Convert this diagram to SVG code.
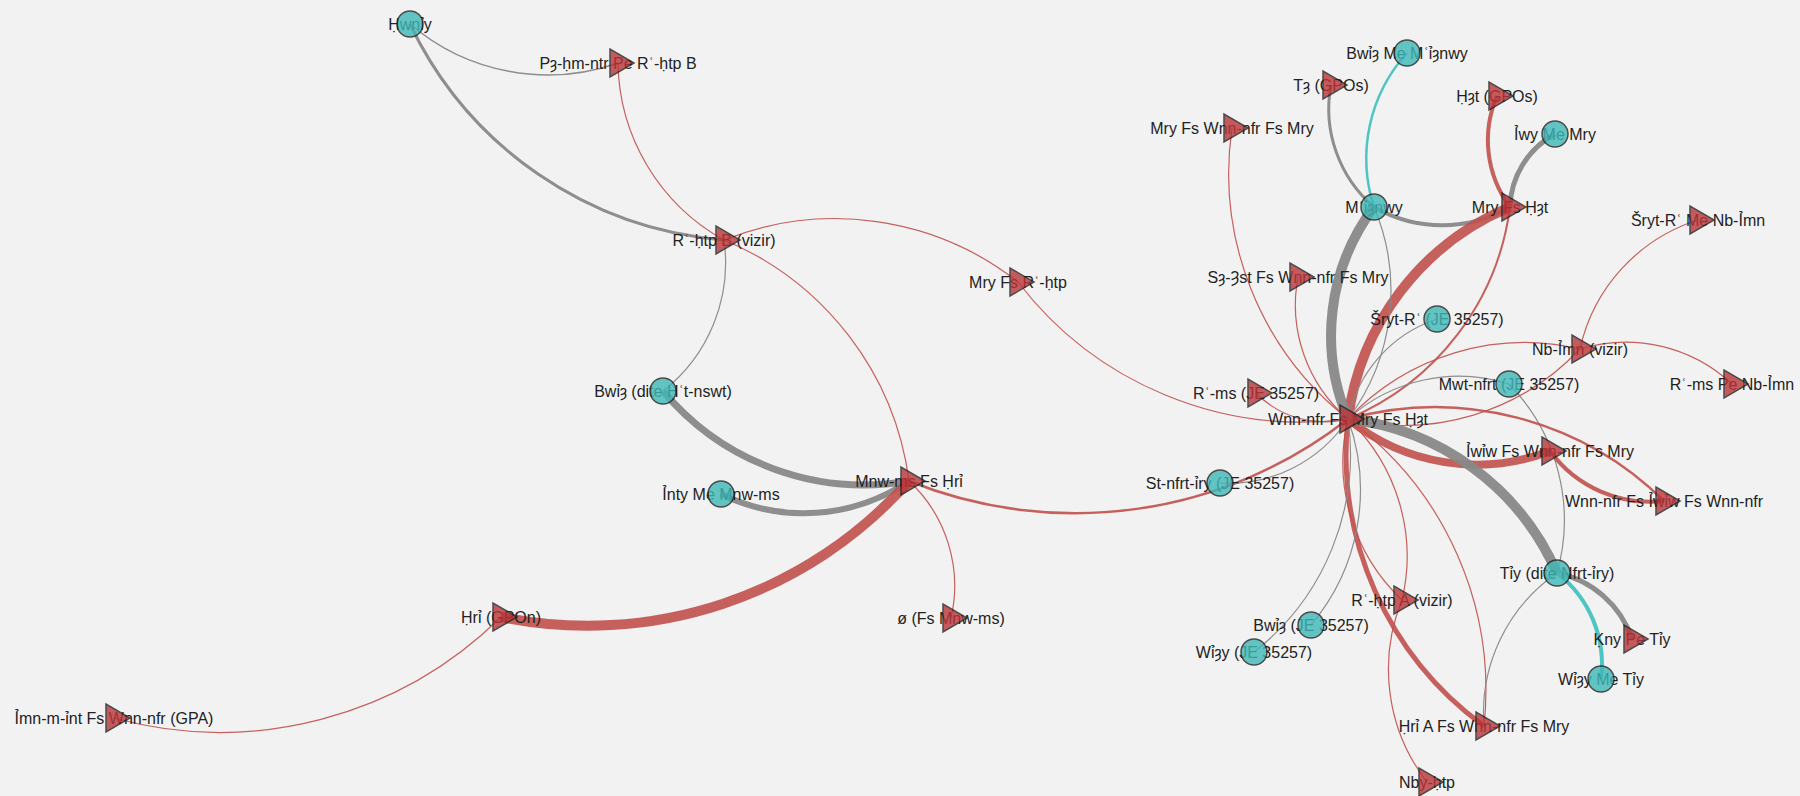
<svg xmlns="http://www.w3.org/2000/svg" xmlns:xlink="http://www.w3.org/1999/xlink" width="1800" height="796" viewBox="0 0 1800 796">
<style>
.e{fill:none}
.r{stroke:#c0504d;stroke-opacity:.9}
.g{stroke:#888;stroke-opacity:.95}
.t{stroke:#4fc4c4}
.lbl{font-family:"Liberation Sans",Arial,sans-serif;font-size:16px;fill:#222;text-anchor:middle}
.c{fill:#3fb8b8;stroke:#222;stroke-width:1.5;opacity:.8}
.tr{fill:#bb3538;stroke:#222;stroke-width:1.5;opacity:.8}
</style>
<defs>
<path id="tri" d="M-8,-14 L-8,14 L16,0 Z"/>
</defs>
<rect width="1800" height="796" fill="#f2f2f2"/>
<g id="edges" class="e">
<path class="g" stroke-width="1.5" d="M410,24 A212,212 0 0,0 618,63"/>
<path class="g" stroke-width="3" d="M410,24 A381,381 0 0,0 724,240"/>
<path class="r" stroke-width="1.2" d="M618,63 A206,206 0 0,0 724,240"/>
<path class="r" stroke-width="1.2" d="M724,240 A304,304 0 0,1 909,481"/>
<path class="r" stroke-width="1.2" d="M724,240 A297,297 0 0,1 1018,282"/>
<path class="r" stroke-width="1.2" d="M1018,282 A357,357 0 0,0 1348,419"/>
<path class="g" stroke-width="1.2" d="M663,391 A163,163 0 0,0 724,240"/>
<path class="g" stroke-width="7" d="M663,391 A262,262 0 0,0 909,481"/>
<path class="g" stroke-width="6" d="M721,494 A188,188 0 0,0 909,481"/>
<path class="r" stroke-width="10" d="M501,617 A430,430 0 0,0 909,481"/>
<path class="r" stroke-width="1.2" d="M501,617 A400,400 0 0,1 114,718"/>
<path class="r" stroke-width="1.2" d="M909,481 A143,143 0 0,1 951,618"/>
<path class="r" stroke-width="2.5" d="M909,481 A443,443 0 0,0 1348,419"/>
<path class="g" stroke-width="1.2" d="M1220,483 A143,143 0 0,0 1348,419"/>
<path class="g" stroke-width="3" d="M1331,85 A129,129 0 0,0 1374,207"/>
<path class="t" stroke-width="2.5" d="M1407,53 A157,157 0 0,0 1374,207"/>
<path class="g" stroke-width="4" d="M1374,207 A136,136 0 0,0 1510,207"/>
<path class="g" stroke-width="5" d="M1555,134 A86,86 0 0,0 1510,207"/>
<path class="r" stroke-width="4" d="M1497,96 A112,112 0 0,0 1510,207"/>
<path class="r" stroke-width="10" d="M1510,207 A267,267 0 0,0 1348,419"/>
<path class="r" stroke-width="2" d="M1510,207 A267,267 0 0,1 1348,419"/>
<path class="g" stroke-width="10" d="M1374,207 A214,214 0 0,0 1348,419"/>
<path class="g" stroke-width="1.2" d="M1374,207 A214,214 0 0,1 1348,419"/>
<path class="r" stroke-width="1.2" d="M1232,128 A313,313 0 0,0 1348,419"/>
<path class="r" stroke-width="1.2" d="M1298,277 A150,150 0 0,0 1348,419"/>
<path class="r" stroke-width="1.2" d="M1256,393 A96,96 0 0,0 1348,419"/>
<path class="g" stroke-width="1.2" d="M1437,319 A134,134 0 0,0 1348,419"/>
<path class="g" stroke-width="1.2" d="M1509,384 A165,165 0 0,0 1348,419"/>
<path class="g" stroke-width="1.2" d="M1509,384 A195,195 0 0,1 1557,573"/>
<path class="r" stroke-width="1.2" d="M1348,419 A242,242 0 0,1 1580,349"/>
<path class="r" stroke-width="1.2" d="M1348,419 A242,242 0 0,0 1580,349"/>
<path class="r" stroke-width="1.2" d="M1580,349 A156,156 0 0,1 1732,384"/>
<path class="r" stroke-width="1.2" d="M1580,349 A175,175 0 0,1 1698,220"/>
<path class="r" stroke-width="8" d="M1348,419 A204,204 0 0,0 1550,451"/>
<path class="r" stroke-width="2.5" d="M1348,419 A326,326 0 0,1 1664,501"/>
<path class="r" stroke-width="4" d="M1550,451 A124,124 0 0,0 1664,501"/>
<path class="g" stroke-width="10" d="M1348,419 A260,260 0 0,1 1557,573"/>
<path class="r" stroke-width="1.2" d="M1348,419 A189,189 0 0,0 1402,600"/>
<path class="r" stroke-width="1.2" d="M1348,419 A189,189 0 0,1 1402,600"/>
<path class="r" stroke-width="5" d="M1348,419 A336,336 0 0,0 1484,726"/>
<path class="r" stroke-width="1.2" d="M1348,419 A336,336 0 0,1 1484,726"/>
<path class="r" stroke-width="1.2" d="M1402,600 A184,184 0 0,0 1427,782"/>
<path class="g" stroke-width="1.2" d="M1348,419 A209,209 0 0,1 1311,625"/>
<path class="g" stroke-width="1.2" d="M1348,419 A251,251 0 0,1 1254,652"/>
<path class="g" stroke-width="5" d="M1557,573 A100,100 0 0,1 1632,639"/>
<path class="t" stroke-width="4" d="M1557,573 A115,115 0 0,1 1601,679"/>
<path class="g" stroke-width="1.2" d="M1557,573 A170,170 0 0,0 1484,726"/>
</g>
<g id="nodes">
<g id="n-hwniy"><text class="lbl" x="410" y="24" dy="0.35em">Ḥwnỉy</text><circle class="c" cx="410" cy="24" r="13"/></g>
<g id="n-p3"><text class="lbl" x="618" y="63" dy="0.35em">Pȝ-ḥm-ntr Pe Rʿ-ḥtp B</text><use class="tr" href="#tri" xlink:href="#tri" x="618" y="63"/></g>
<g id="n-rhtpb"><text class="lbl" x="724" y="240" dy="0.35em">Rʿ-ḥtp B (vizir)</text><use class="tr" href="#tri" xlink:href="#tri" x="724" y="240"/></g>
<g id="n-mryfsrhtp"><text class="lbl" x="1018" y="282" dy="0.35em">Mry Fs Rʿ-ḥtp</text><use class="tr" href="#tri" xlink:href="#tri" x="1018" y="282"/></g>
<g id="n-bwi3dite"><text class="lbl" x="663" y="391" dy="0.35em">Bwỉȝ (dite Ḥʿt-nswt)</text><circle class="c" cx="663" cy="391" r="13"/></g>
<g id="n-mnwms"><text class="lbl" x="909" y="481" dy="0.35em">Mnw-ms Fs Ḥrỉ</text><use class="tr" href="#tri" xlink:href="#tri" x="909" y="481"/></g>
<g id="n-inty"><text class="lbl" x="721" y="494" dy="0.35em">Ỉnty Me Mnw-ms</text><circle class="c" cx="721" cy="494" r="13"/></g>
<g id="n-hri"><text class="lbl" x="501" y="617" dy="0.35em">Ḥrỉ (GPOn)</text><use class="tr" href="#tri" xlink:href="#tri" x="501" y="617"/></g>
<g id="n-imn"><text class="lbl" x="114" y="718" dy="0.35em">Ỉmn-m-ỉnt Fs Wnn-nfr (GPA)</text><use class="tr" href="#tri" xlink:href="#tri" x="114" y="718"/></g>
<g id="n-o"><text class="lbl" x="951" y="618" dy="0.35em">ø (Fs Mnw-ms)</text><use class="tr" href="#tri" xlink:href="#tri" x="951" y="618"/></g>
<g id="n-bwi3me"><text class="lbl" x="1407" y="53" dy="0.35em">Bwỉȝ Me Mʿỉȝnwy</text><circle class="c" cx="1407" cy="53" r="13"/></g>
<g id="n-t3"><text class="lbl" x="1331" y="85" dy="0.35em">Tȝ (GPOs)</text><use class="tr" href="#tri" xlink:href="#tri" x="1331" y="85"/></g>
<g id="n-mryfswnn"><text class="lbl" x="1232" y="128" dy="0.35em">Mry Fs Wnn-nfr Fs Mry</text><use class="tr" href="#tri" xlink:href="#tri" x="1232" y="128"/></g>
<g id="n-h3t"><text class="lbl" x="1497" y="96" dy="0.35em">Ḥȝt (GPOs)</text><use class="tr" href="#tri" xlink:href="#tri" x="1497" y="96"/></g>
<g id="n-iwy"><text class="lbl" x="1555" y="134" dy="0.35em">Ỉwy Me Mry</text><circle class="c" cx="1555" cy="134" r="13"/></g>
<g id="n-mi3nwy"><text class="lbl" x="1374" y="207" dy="0.35em">Mʿỉȝnwy</text><circle class="c" cx="1374" cy="207" r="13"/></g>
<g id="n-mryfsh3t"><text class="lbl" x="1510" y="207" dy="0.35em">Mry Fs Ḥȝt</text><use class="tr" href="#tri" xlink:href="#tri" x="1510" y="207"/></g>
<g id="n-srytme"><text class="lbl" x="1698" y="220" dy="0.35em">Šryt-Rʿ Me Nb-Ỉmn</text><use class="tr" href="#tri" xlink:href="#tri" x="1698" y="220"/></g>
<g id="n-s33st"><text class="lbl" x="1298" y="277" dy="0.35em">Sȝ-Ȝst Fs Wnn-nfr Fs Mry</text><use class="tr" href="#tri" xlink:href="#tri" x="1298" y="277"/></g>
<g id="n-sryje"><text class="lbl" x="1437" y="319" dy="0.35em">Šryt-Rʿ (JE 35257)</text><circle class="c" cx="1437" cy="319" r="13"/></g>
<g id="n-nbimn"><text class="lbl" x="1580" y="349" dy="0.35em">Nb-Ỉmn (vizir)</text><use class="tr" href="#tri" xlink:href="#tri" x="1580" y="349"/></g>
<g id="n-rmspe"><text class="lbl" x="1732" y="384" dy="0.35em">Rʿ-ms Pe Nb-Ỉmn</text><use class="tr" href="#tri" xlink:href="#tri" x="1732" y="384"/></g>
<g id="n-mwt"><text class="lbl" x="1509" y="384" dy="0.35em">Mwt-nfrt (JE 35257)</text><circle class="c" cx="1509" cy="384" r="13"/></g>
<g id="n-rmsje"><text class="lbl" x="1256" y="393" dy="0.35em">Rʿ-ms (JE 35257)</text><use class="tr" href="#tri" xlink:href="#tri" x="1256" y="393"/></g>
<g id="n-wnn"><text class="lbl" x="1348" y="419" dy="0.35em">Wnn-nfr Fs Mry Fs Ḥȝt</text><use class="tr" href="#tri" xlink:href="#tri" x="1348" y="419"/></g>
<g id="n-iwiw"><text class="lbl" x="1550" y="451" dy="0.35em">Ỉwỉw Fs Wnn-nfr Fs Mry</text><use class="tr" href="#tri" xlink:href="#tri" x="1550" y="451"/></g>
<g id="n-wnnfsiwiw"><text class="lbl" x="1664" y="501" dy="0.35em">Wnn-nfr Fs Ỉwỉw Fs Wnn-nfr</text><use class="tr" href="#tri" xlink:href="#tri" x="1664" y="501"/></g>
<g id="n-stnfrt"><text class="lbl" x="1220" y="483" dy="0.35em">St-nfrt-ỉry (JE 35257)</text><circle class="c" cx="1220" cy="483" r="13"/></g>
<g id="n-tiy"><text class="lbl" x="1557" y="573" dy="0.35em">Tỉy (dite Nfrt-ỉry)</text><circle class="c" cx="1557" cy="573" r="13"/></g>
<g id="n-rhtpa"><text class="lbl" x="1402" y="600" dy="0.35em">Rʿ-ḥtp A (vizir)</text><use class="tr" href="#tri" xlink:href="#tri" x="1402" y="600"/></g>
<g id="n-bwi3je"><text class="lbl" x="1311" y="625" dy="0.35em">Bwỉȝ (JE 35257)</text><circle class="c" cx="1311" cy="625" r="13"/></g>
<g id="n-wi3yje"><text class="lbl" x="1254" y="652" dy="0.35em">Wỉȝy (JE 35257)</text><circle class="c" cx="1254" cy="652" r="13"/></g>
<g id="n-kny"><text class="lbl" x="1632" y="639" dy="0.35em">Ḳny Pe Tỉy</text><use class="tr" href="#tri" xlink:href="#tri" x="1632" y="639"/></g>
<g id="n-wi3yme"><text class="lbl" x="1601" y="679" dy="0.35em">Wỉȝy Me Tỉy</text><circle class="c" cx="1601" cy="679" r="13"/></g>
<g id="n-hria"><text class="lbl" x="1484" y="726" dy="0.35em">Ḥrỉ A Fs Wnn-nfr Fs Mry</text><use class="tr" href="#tri" xlink:href="#tri" x="1484" y="726"/></g>
<g id="n-nby"><text class="lbl" x="1427" y="782" dy="0.35em">Nby-ḥtp</text><use class="tr" href="#tri" xlink:href="#tri" x="1427" y="782"/></g>
</g>
</svg>
